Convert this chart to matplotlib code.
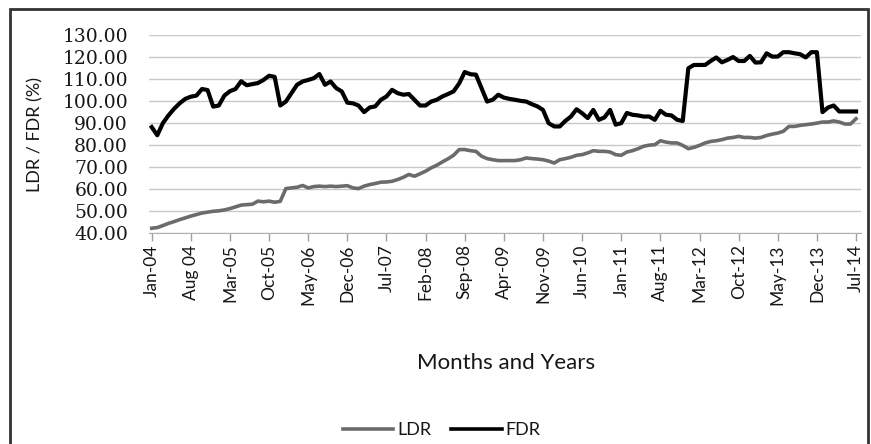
import numpy as np
import matplotlib.pyplot as plt
from matplotlib.lines import Line2D

# monthly ratios, Jan-04 .. Jul-14 (127 months)
fdr = [88.2, 84.5, 90.0, 93.5, 96.5, 99.0, 101.0, 102.0, 102.5, 105.5,
       105.0, 97.5, 98.0, 102.5, 104.5, 105.5, 109.0, 107.2, 107.7, 108.2,
       109.6, 111.5, 111.0, 98.0, 99.8, 103.6, 107.4, 108.9, 109.6, 110.4,
       112.3, 107.4, 108.9, 105.9, 104.4, 99.3, 99.0, 98.0, 95.0, 97.1,
       97.6, 100.6, 102.1, 105.1, 103.6, 102.9, 103.2, 100.6, 98.0, 98.0,
       99.8, 100.6, 102.1, 103.2, 104.4, 108.0, 113.2, 112.2, 112.0, 105.9,
       99.8, 100.6, 102.9, 101.6, 101.0, 100.6, 100.1, 99.8, 98.6, 97.6,
       96.0, 90.0, 88.5, 88.5, 91.0, 93.0, 96.3, 94.5, 92.3, 96.0,
       91.5, 92.6, 96.0, 89.3, 90.0, 94.6, 93.8, 93.5, 93.0, 93.0,
       91.5, 95.6, 93.8, 93.5, 91.5, 91.0, 114.9, 116.4, 116.4, 116.4,
       118.2, 119.8, 117.6, 118.7, 120.0, 118.2, 118.2, 120.5, 117.5, 117.6,
       121.7, 120.2, 120.2, 122.2, 122.2, 121.7, 121.3, 119.8, 122.2, 122.2,
       95.0, 97.1, 98.0, 95.3, 95.3, 95.3, 95.3]

ldr = [42.3, 42.6, 43.5, 44.5, 45.3, 46.2, 47.0, 47.8, 48.5, 49.2,
       49.6, 50.0, 50.2, 50.6, 51.2, 52.0, 52.8, 53.0, 53.2, 54.6,
       54.3, 54.6, 54.1, 54.5, 60.3, 60.6, 60.9, 61.7, 60.6, 61.2,
       61.4, 61.2, 61.4, 61.2, 61.4, 61.6, 60.6, 60.3, 61.4, 62.1,
       62.6, 63.2, 63.3, 63.6, 64.4, 65.4, 66.7, 65.9, 67.0, 68.2,
       69.7, 70.9, 72.4, 73.8, 75.4, 78.0, 78.0, 77.5, 77.2, 75.0,
       73.9, 73.4, 73.0, 73.0, 73.0, 73.0, 73.4, 74.2, 73.9, 73.7,
       73.4, 72.8, 71.9, 73.4, 73.9, 74.5, 75.4, 75.7, 76.5, 77.5,
       77.2, 77.2, 76.9, 75.7, 75.4, 76.9, 77.5, 78.4, 79.5, 80.0,
       80.2, 82.0, 81.4, 81.0, 81.0, 79.9, 78.4, 79.0, 79.9, 81.0,
       81.7, 82.0, 82.5, 83.2, 83.5, 84.0, 83.5, 83.5, 83.2, 83.5,
       84.4, 85.0, 85.5, 86.3, 88.5, 88.5, 89.0, 89.3, 89.6, 90.0,
       90.5, 90.5, 91.0, 90.5, 89.6, 89.6, 92.0]

tick_labels = ["Jan-04", "Aug 04", "Mar-05", "Oct-05", "May-06", "Dec-06",
               "Jul-07", "Feb-08", "Sep-08", "Apr-09", "Nov-09", "Jun-10",
               "Jan-11", "Aug-11", "Mar-12", "Oct-12", "May-13", "Dec-13",
               "Jul-14"]
y_ticks = [40, 50, 60, 70, 80, 90, 100, 110, 120, 130]

W, H = 871, 444
fig = plt.figure(figsize=(W / 100, H / 100), dpi=100)
ax = fig.add_axes([148.9 / W, 1 - 233.3 / H, 711.6 / W, 198.3 / H])

months = np.arange(len(fdr))
ldr_col = "#6b6b6b"
txt_col = "#161616"
ax.plot(months, ldr, color=ldr_col, lw=2.6, solid_joinstyle="round", zorder=3)
ax.plot(months, fdr, color="black", lw=3.0, solid_joinstyle="round", zorder=4)

ax.set_xlim(-0.5, 126.8)
ax.set_ylim(40, 130)
ax.set_yticks(y_ticks)
ax.set_yticklabels([f"{v:.2f}" for v in y_ticks], family="DejaVu Serif",
                   fontsize=13.5, color=txt_col)
ax.tick_params(axis="y", length=0, pad=15)
ax.set_xticks(np.arange(0, 127, 7))
ax.set_xticklabels(tick_labels, rotation=90, family="Lato", fontsize=12.5, color=txt_col)
ax.tick_params(axis="x", length=6, width=1, color="#a0a0a0", pad=2)
ax.grid(axis="y", color="#c8c8c8", lw=1.0)
ax.set_axisbelow(True)
for s in ["top", "right", "left"]:
    ax.spines[s].set_visible(False)
ax.spines["bottom"].set_color("#b0b0b0")

fig.text(35 / W, 1 - 135 / H, "LDR / FDR (%)", rotation=90, ha="center",
         va="center", family="Lato", fontsize=13, color=txt_col)
fig.text(506 / W, 1 - 363 / H, "Months and Years", ha="center", va="center",
         family="Lato", fontsize=16, color=txt_col)

handles = [Line2D([], [], color=ldr_col, lw=2.6), Line2D([], [], color="black", lw=2.6)]
fig.legend(handles, ["LDR", "FDR"], loc="center", bbox_to_anchor=(441.5 / W, 1 - 430 / H),
           ncol=2, frameon=False, prop={"family": "Lato", "size": 13},
           labelcolor=txt_col, handlelength=2.8, handletextpad=0.2, columnspacing=1.1)

# outer chart border
fig.add_artist(plt.Rectangle((10 / W, -0.1), 858 / W, 1.1 - 9 / H, fill=False,
                             lw=2, edgecolor="#333333", transform=fig.transFigure))

fig.savefig("out.png", dpi=100)
